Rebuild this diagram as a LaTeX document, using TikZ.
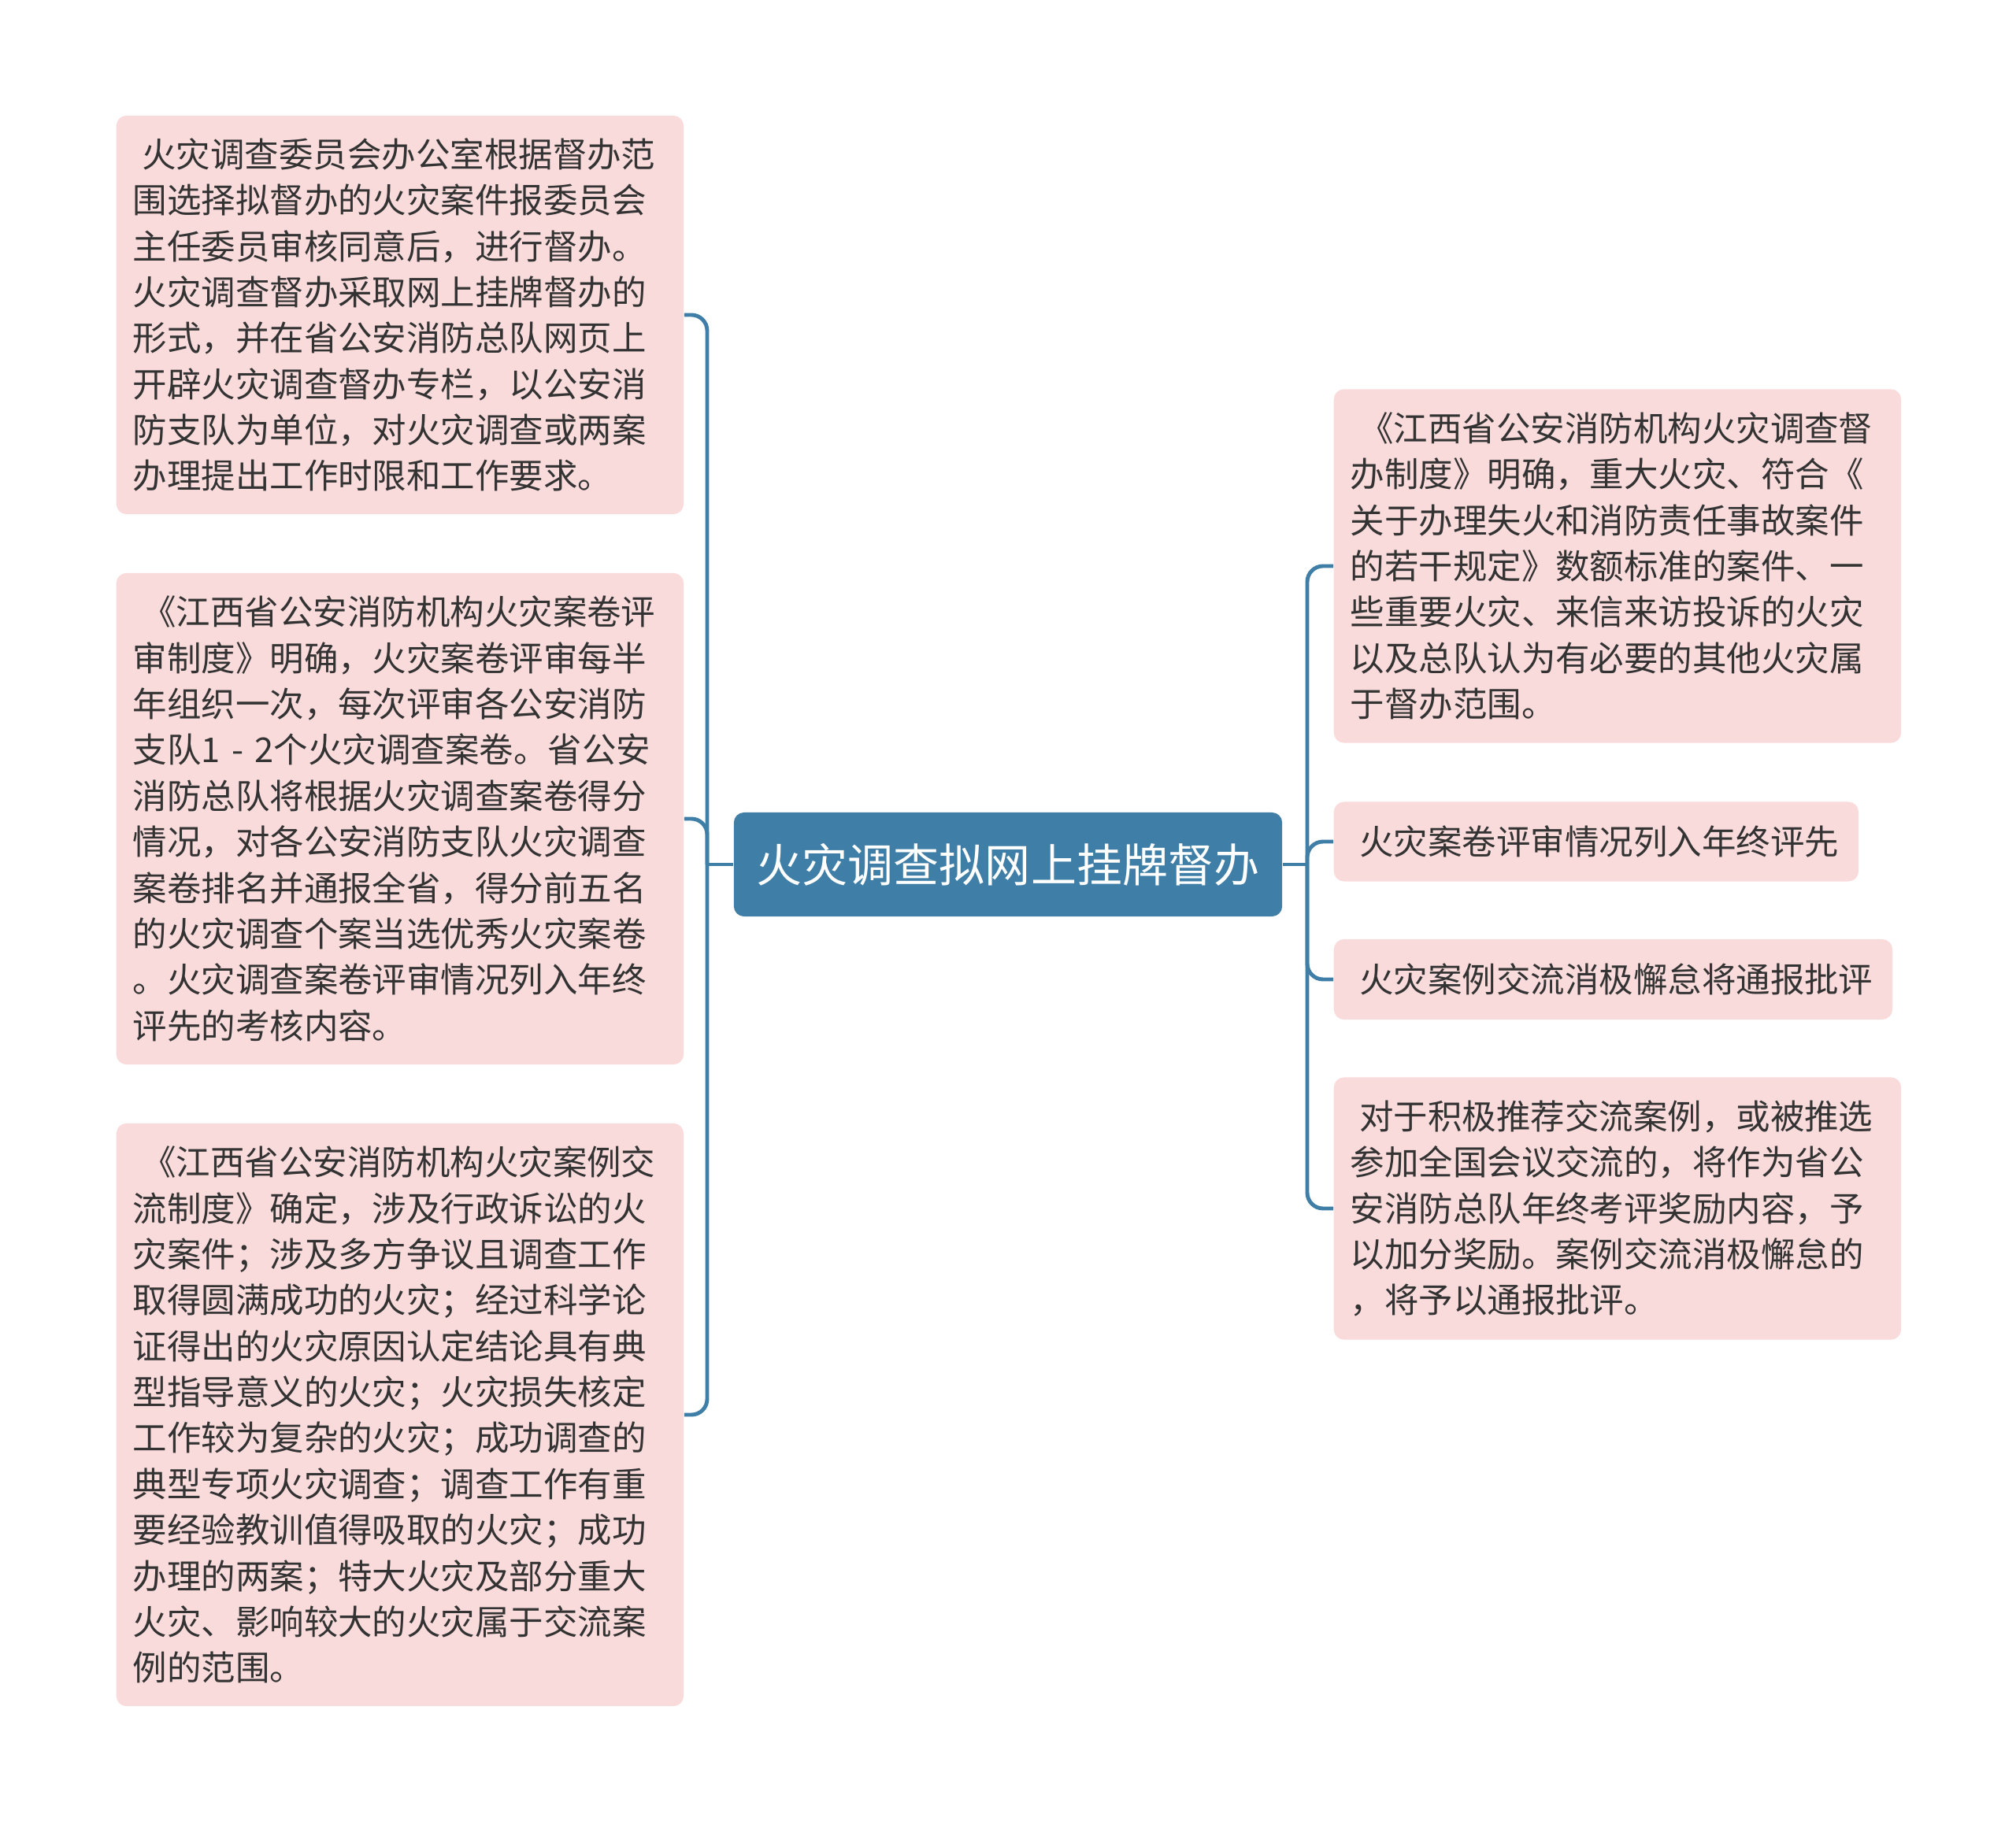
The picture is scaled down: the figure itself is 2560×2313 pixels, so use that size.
\documentclass[tikz,border=0pt]{standalone}
\usepackage{fontspec}
\setmainfont{Noto Sans CJK SC}
\definecolor{linkblue}{HTML}{3F7EA6}
\definecolor{leafpink}{HTML}{FADBDB}
\definecolor{leaftext}{HTML}{333333}
\begin{document}
\begin{tikzpicture}[x=0.01cm,y=-0.01cm,
  leaf/.style={fill=leafpink, rounded corners=0.13cm, anchor=west, align=left,
    inner xsep=0.21cm, inner ysep=0pt, text=leaftext,
    font=\fontsize{12.36pt}{16.6pt}\selectfont},
  root/.style={fill=linkblue, rounded corners=0.13cm, text=white,
    minimum width=6.96cm, minimum height=1.32cm, inner sep=0pt,
    font=\fontsize{16.5pt}{20pt}\selectfont},
  link/.style={draw=linkblue, line width=1.4pt, rounded corners=0.2cm}]
\useasboundingbox (0,0) rectangle (2560,2313);
\node[root] (root) at (1280,1098) {火灾调查拟网上挂牌督办};
\coordinate (lspine) at (898,1098);
\coordinate (rspine) at (1660,1098);
% left side
\node[leaf, text width=6.78cm, minimum height=5.06cm] (l1) at (147,400) {\hspace*{0.27em}火灾调查委员会办公室根据督办范\\围选择拟督办的火灾案件报委员会\\主任委员审核同意后，进行督办。\\火灾调查督办采取网上挂牌督办的\\形式，并在省公安消防总队网页上\\开辟火灾调查督办专栏，以公安消\\防支队为单位，对火灾调查或两案\\办理提出工作时限和工作要求。};
\node[leaf, text width=6.78cm, minimum height=6.24cm] (l2) at (147,1040) {\hspace*{0.27em}《江西省公安消防机构火灾案卷评\\审制度》明确，火灾案卷评审每半\\年组织一次，每次评审各公安消防\\支队1 - 2个火灾调查案卷。省公安\\消防总队将根据火灾调查案卷得分\\情况，对各公安消防支队火灾调查\\案卷排名并通报全省，得分前五名\\的火灾调查个案当选优秀火灾案卷\\。火灾调查案卷评审情况列入年终\\评先的考核内容。};
\node[leaf, text width=6.78cm, minimum height=7.40cm] (l3) at (147,1797) {\hspace*{0.27em}《江西省公安消防机构火灾案例交\\流制度》确定，涉及行政诉讼的火\\灾案件；涉及多方争议且调查工作\\取得圆满成功的火灾；经过科学论\\证得出的火灾原因认定结论具有典\\型指导意义的火灾；火灾损失核定\\工作较为复杂的火灾；成功调查的\\典型专项火灾调查；调查工作有重\\要经验教训值得吸取的火灾；成功\\办理的两案；特大火灾及部分重大\\火灾、影响较大的火灾属于交流案\\例的范围。};
% right side
\node[leaf, text width=6.78cm, minimum height=4.49cm] (r1) at (1693,719) {\hspace*{0.27em}《江西省公安消防机构火灾调查督\\办制度》明确，重大火灾、符合《\\关于办理失火和消防责任事故案件\\的若干规定》数额标准的案件、一\\些重要火灾、来信来访投诉的火灾\\以及总队认为有必要的其他火灾属\\于督办范围。};
\node[leaf, text width=6.24cm, minimum height=1.01cm] (r2) at (1693,1069) {\hspace*{0.27em}火灾案卷评审情况列入年终评先};
\node[leaf, text width=6.67cm, minimum height=1.02cm] (r3) at (1693,1244) {\hspace*{0.27em}火灾案例交流消极懈怠将通报批评};
\node[leaf, text width=6.78cm, minimum height=3.33cm] (r4) at (1693,1535) {\hspace*{0.27em}对于积极推荐交流案例，或被推选\\参加全国会议交流的，将作为省公\\安消防总队年终考评奖励内容，予\\以加分奖励。案例交流消极懈怠的\\，将予以通报批评。};
\draw[link] (root.west) -- (lspine);
\draw[link] (root.east) -- (rspine);
\foreach \n in {l1,l2,l3}
  \draw[link] (lspine) |- (\n.east);
\foreach \n in {r1,r2,r3,r4}
  \draw[link] (rspine) |- (\n.west);
\end{tikzpicture}
\end{document}
